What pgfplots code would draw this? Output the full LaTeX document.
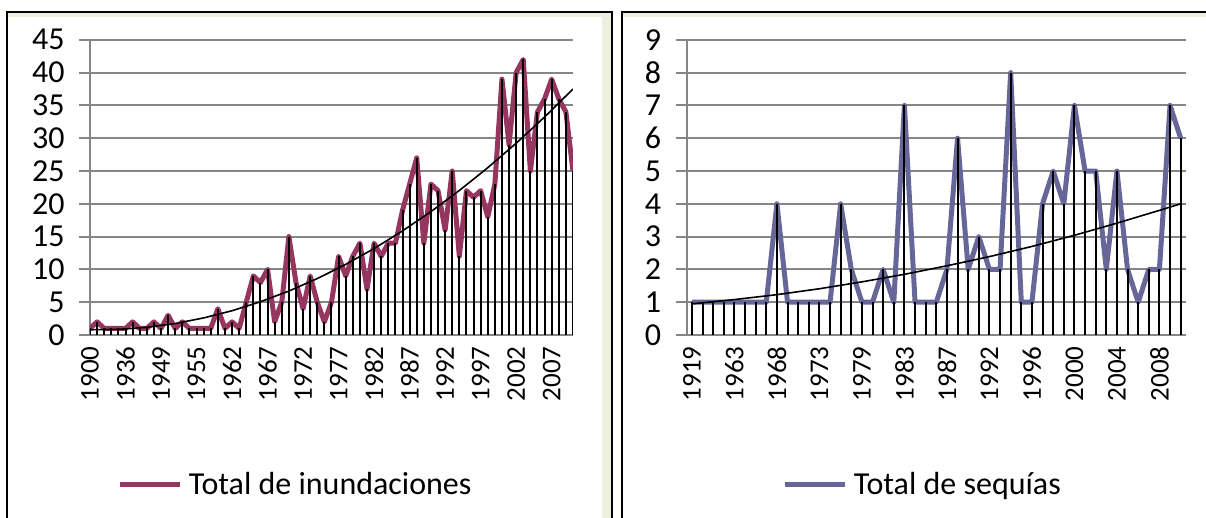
\documentclass[border=0pt]{standalone}
\usepackage{pgfplots}
\pgfplotsset{compat=1.18}
\usepackage{pgfplotstable}
\usepackage{fontspec}
\setmainfont{Carlito}
\definecolor{floodc}{RGB}{150,54,96}
\definecolor{droughtc}{RGB}{102,102,153}
\definecolor{gridc}{RGB}{134,134,134}
\definecolor{framegreen}{RGB}{235,241,222}

\pgfplotstableread{
i v
0 1
1 2
2 1
3 1
4 1
5 1
6 2
7 1
8 1
9 2
10 1
11 3
12 1
13 2
14 1
15 1
16 1
17 1
18 4
19 1
20 2
21 1
22 5
23 9
24 8
25 10
26 2
27 5
28 15
29 8
30 4
31 9
32 5
33 2
34 5
35 12
36 9
37 12
38 14
39 7
40 14
41 12
42 14
43 14
44 19
45 23
46 27
47 14
48 23
49 22
50 16
51 25
52 12
53 22
54 21
55 22
56 18
57 23
58 39
59 29
60 40
61 42
62 25
63 34
64 36
65 39
66 36
67 34
68 25
}\floods

\pgfplotstableread{
i v
0 0.80
4 0.86
8 1.17
12 1.75
16 2.60
20 3.70
24 5.07
28 6.70
32 8.60
36 10.76
40 13.18
44 15.87
48 18.81
52 22.03
56 25.50
60 29.23
64 33.23
68 37.50
}\floodtrend

\pgfplotstableread{
j v
0 1
1 1
2 1
3 1
4 1
5 1
6 1
7 1
8 4
9 1
10 1
11 1
12 1
13 1
14 4
15 2
16 1
17 1
18 2
19 1
20 7
21 1
22 1
23 1
24 2
25 6
26 2
27 3
28 2
29 2
30 8
31 1
32 1
33 4
34 5
35 4
36 7
37 5
38 5
39 2
40 5
41 2
42 1
43 2
44 2
45 7
46 6
}\droughts

\pgfplotstableread{
j v
0 0.95
4 1.08
8 1.23
12 1.41
16 1.62
20 1.85
24 2.11
28 2.39
32 2.70
36 3.04
40 3.41
44 3.80
46 4.00
}\droughttrend

\pgfplotsset{
  panel/.style={
    scale only axis,
    height=147.6pt,
    axis lines*=left,
    axis line style={gridc, line width=1pt},
    ymajorgrids,
    grid style={gridc, line width=1pt},
    tick align=outside,
    major tick length=5.5pt,
    ytick style={gridc, line width=1pt},
    xtick style={draw=none},
    yticklabel style={font=\fontsize{16}{16}\selectfont, inner sep=0pt, anchor=east},
    yticklabel shift=7pt,
    xticklabel style={font=\fontsize{13.5}{13.5}\selectfont, rotate=90, anchor=east, inner sep=0pt},
    /pgf/number format/assume math mode=true,
    legend image code/.code={\draw[##1] (0pt,0pt) -- (30pt,0pt);},
    legend style={draw=none, fill=none, anchor=center, font=\fontsize{16}{16}\selectfont, inner sep=0pt, nodes={inner sep=3pt}},
  }
}

\begin{document}
\begin{tikzpicture}
\useasboundingbox (0,0) rectangle (603pt,259pt);
\fill[framegreen] (3.65pt,250.65pt) rectangle (305.85pt,253.15pt);
\fill[framegreen] (300.85pt,-5pt) rectangle (305.85pt,253.15pt);
\fill[framegreen] (310.85pt,250.65pt) rectangle (610pt,253.15pt);
\draw[black, line width=1pt] (3.65pt,-5pt) -- (3.65pt,253.15pt) -- (305.85pt,253.15pt) -- (305.85pt,-5pt);
\draw[black, line width=1pt] (310.85pt,-5pt) -- (310.85pt,253.15pt) -- (610pt,253.15pt);

\begin{axis}[panel,
  at={(45pt,91.5pt)}, anchor=south west,
  width=241.5pt,
  xmin=0, xmax=68, ymin=0, ymax=45,
  ytick={0,5,...,45},
  xtick={0,5,...,65},
  xticklabels={1900,1936,1949,1955,1962,1967,1972,1977,1982,1987,1992,1997,2002,2007},
  legend style={at={(0.43,-0.508)}},
]
\addplot[floodc, line width=2.5pt, line join=round] table[x=i,y=v]{\floods};
\addlegendentry{Total de inundaciones}
\addplot[ycomb, black, line width=1pt, forget plot] table[x=i,y=v]{\floods};
\addplot[black, line width=0.8pt, forget plot] table[x=i,y=v]{\floodtrend};
\end{axis}

\begin{axis}[panel,
  at={(343.3pt,91.5pt)}, anchor=south west,
  width=249.7pt,
  xmin=-0.5, xmax=46.5, ymin=0, ymax=9,
  ytick={0,1,...,9},
  xtick={0,4,...,44},
  xticklabels={1919,1963,1968,1973,1979,1983,1987,1992,1996,2000,2004,2008},
  legend style={at={(0.477,-0.508)}},
]
\addplot[droughtc, line width=2.5pt, line join=round] table[x=j,y=v]{\droughts};
\addlegendentry{Total de sequías}
\addplot[ycomb, black, line width=1pt, forget plot] table[x=j,y=v]{\droughts};
\addplot[black, line width=0.8pt, forget plot] table[x=j,y=v]{\droughttrend};
\end{axis}
\end{tikzpicture}
\end{document}
